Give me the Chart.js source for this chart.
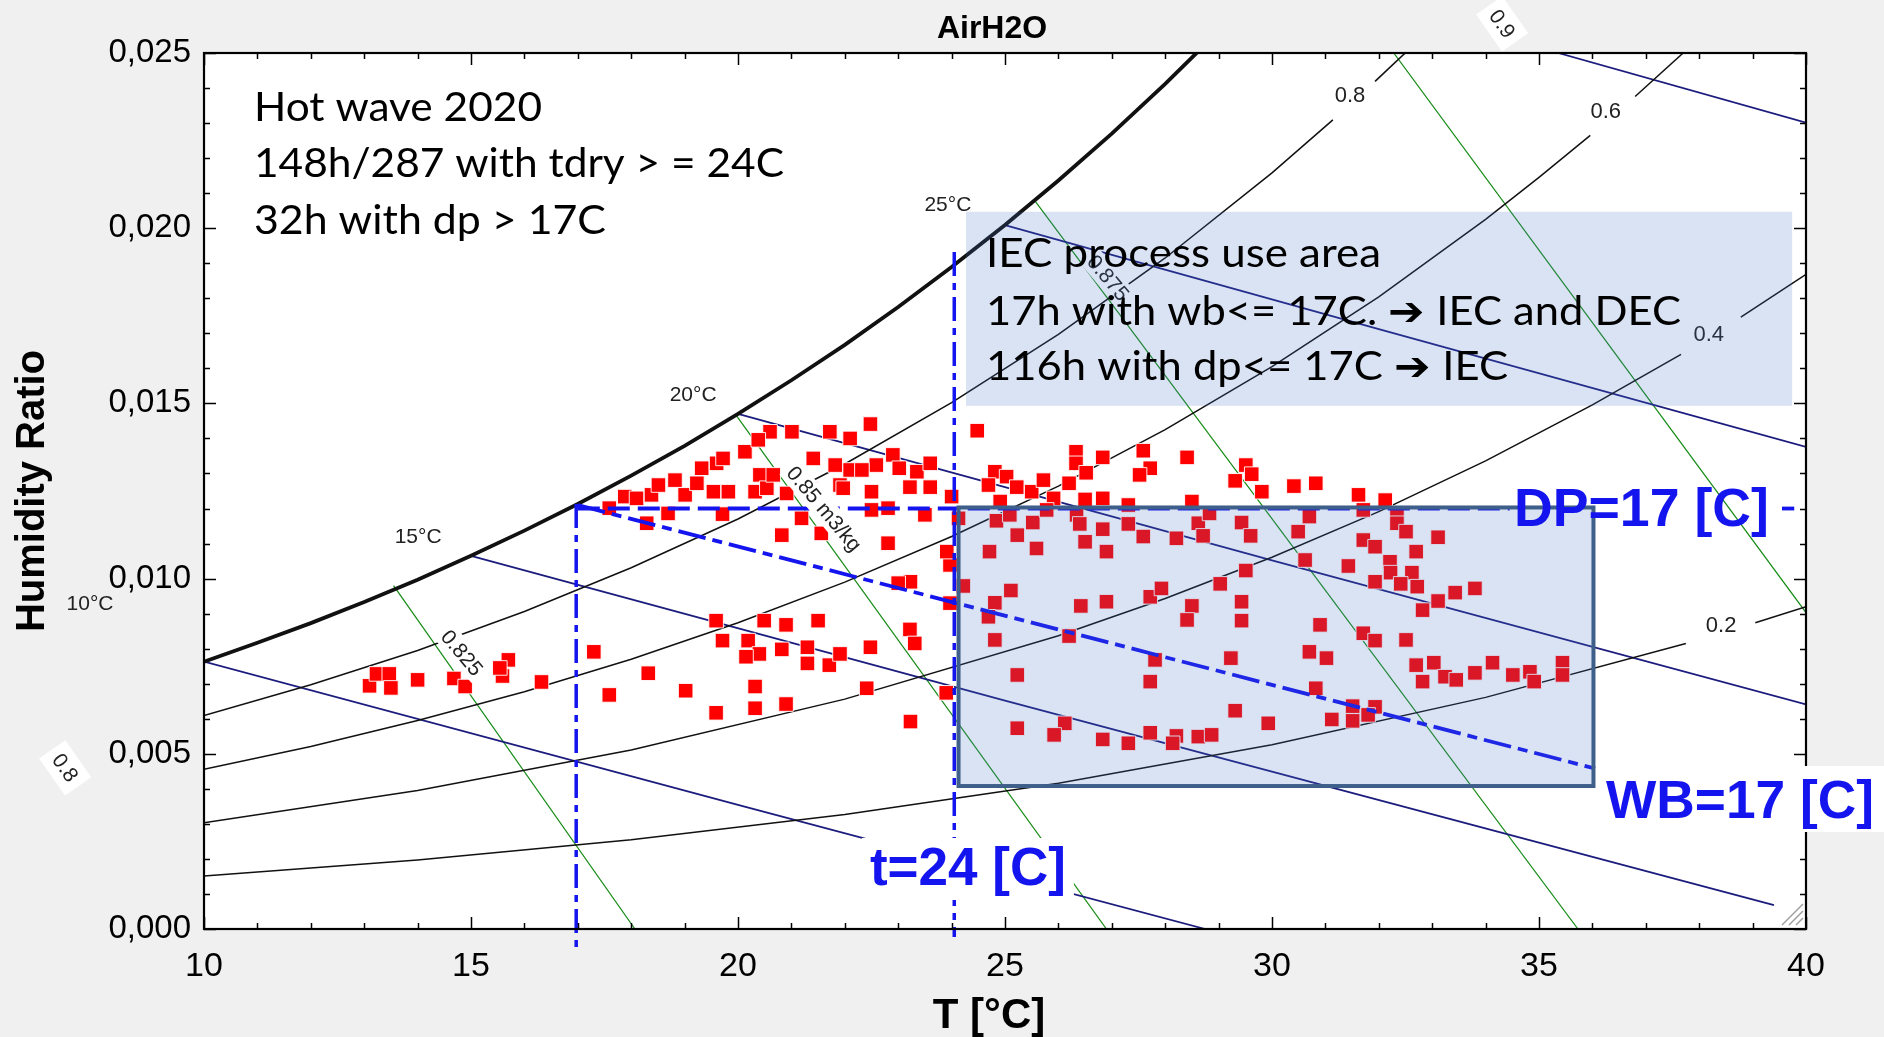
<!DOCTYPE html>
<html><head><meta charset="utf-8">
<script src="https://cdn.jsdelivr.net/npm/chart.js@4.4.1/dist/chart.umd.min.js"></script>
<style>html,body{margin:0;padding:0;background:#f0f0f0;overflow:hidden}#wrap{width:1884px;height:1037px}</style>
</head><body><div id="wrap"><canvas id="c" width="1884" height="1037"></canvas></div>
<script>
// ---------- hourly measurements (dry-bulb T [°C], humidity ratio [kg/kg]) ----------
const pointT = [13.10,13.23,13.47,13.50,14.00,14.68,14.89,15.70,15.59,15.54,16.32,17.30,17.59,18.32,19.02,19.59,19.71,19.59,20.19,20.40,20.15,20.49,20.90,20.82,20.32,20.32,20.90,21.50,21.30,21.30,21.71,21.91,
23.97,23.23,23.00,24.22,25.11,24.81,24.69,23.97,23.22,23.31,22.48,24.81,25.23,22.41,23.90,23.23,26.42,26.90,26.20,27.72,27.93,28.50,28.41,29.03,29.51,29.43,29.43,30.62,30.90,30.70,31.02,27.81,27.72,29.23,30.82,29.31,29.93,31.12,25.23,26.12,25.92,26.83,27.31,27.72,28.21,28.14,28.62,28.87,
17.59,17.88,18.10,18.38,18.51,18.82,19.01,19.23,19.32,19.60,19.72,19.54,19.82,20.13,20.32,20.41,20.60,20.38,21.01,21.72,22.10,21.41,21.82,22.10,21.91,20.54,20.66,20.91,18.69,19.71,18.29,21.19,20.82,21.56,21.36,22.59,
22.48,22.90,22.32,23.02,23.35,23.60,23.60,23.22,22.50,21.97,22.50,22.81,23.50,24.00,24.13,22.81,23.91,24.48,24.81,24.69,25.03,25.22,24.91,25.50,25.72,25.91,26.20,26.33,26.33,26.52,26.83,26.50,26.83,27.31,27.59,27.72,27.52,28.41,28.50,29.51,29.31,29.62,29.81,30.41,30.82,
24.84,25.09,25.52,25.23,24.71,25.59,25.78,26.34,26.40,26.50,26.83,26.90,27.31,27.59,28.21,28.62,28.71,28.83,29.43,29.60,30.49,30.70,
31.62,32.12,31.71,32.34,32.34,32.51,33.11,31.71,31.93,32.70,31.43,32.21,32.22,32.62,31.93,32.41,32.72,33.43,33.80,33.11,32.82,31.71,31.93,32.51,32.70,33.03,32.82,33.24,33.45,33.80,34.13,34.51,34.83,34.91,35.44,35.44,31.51,31.93,31.51,31.80];
const pointW = [0.00694,0.00728,0.00728,0.00688,0.00711,0.00715,0.00692,0.00768,0.00722,0.00745,0.00705,0.00791,0.00668,0.00730,0.00680,0.00880,0.00823,0.00617,0.00823,0.00785,0.00777,0.00880,0.00868,0.00798,0.00692,0.00630,0.00642,0.00880,0.00804,0.00758,0.00753,0.00785,
0.01039,0.00991,0.00987,0.00979,0.00966,0.00931,0.00891,0.00930,0.00855,0.00815,0.00804,0.00825,0.00725,0.00687,0.00674,0.00592,0.00922,0.00934,0.00836,0.00948,0.00972,0.00922,0.00882,0.00985,0.01023,0.00934,0.00880,0.01053,0.00868,0.00791,0.00773,0.00768,0.00706,0.00773,0.00687,0.00623,0.00587,0.00598,0.00573,0.00587,0.00554,0.00541,0.00530,0.00560,0.00551,0.00530,0.00549,0.00554,
0.01201,0.01234,0.01229,0.01239,0.01267,0.01281,0.01239,0.01272,0.01315,0.01329,0.01343,0.01248,0.01248,0.01362,0.01248,0.01296,0.01419,0.01396,0.01419,0.01419,0.01400,0.01343,0.01324,0.01310,0.01267,0.01258,0.01296,0.01243,0.01186,0.01184,0.01158,0.01172,0.01124,0.01129,0.01256,0.01324,
0.01441,0.01353,0.01310,0.01315,0.01305,0.01329,0.01261,0.01261,0.01248,0.01258,0.01196,0.01201,0.01182,0.01234,0.01172,0.01101,0.01077,0.01422,0.01305,0.01267,0.01291,0.01261,0.01220,0.01248,0.01281,0.01229,0.01272,0.01362,0.01329,0.01302,0.01346,0.01226,0.01229,0.01210,0.01365,0.01315,0.01296,0.01346,0.01220,0.01324,0.01279,0.01298,0.01248,0.01264,0.01272,
0.01165,0.01182,0.01160,0.01124,0.01077,0.01086,0.01196,0.01182,0.01156,0.01105,0.01141,0.01077,0.01156,0.01120,0.01115,0.01158,0.01122,0.01186,0.01160,0.01122,0.01134,0.01177,
0.01239,0.01224,0.01196,0.01186,0.01158,0.01134,0.01118,0.01110,0.01091,0.01077,0.01036,0.01048,0.01017,0.01017,0.00991,0.00985,0.00977,0.00960,0.00972,0.00936,0.00910,0.00844,0.00823,0.00825,0.00753,0.00760,0.00706,0.00720,0.00711,0.00731,0.00760,0.00725,0.00734,0.00706,0.00760,0.00725,0.00636,0.00634,0.00594,0.00611];

// ---------- saturation curve ----------
const satT = [10,11,12,13,14,15,16,17,18,19,20,21,22,23,24,25,26,27,28,28.6];
const satW = [0.00763,0.00817,0.00873,0.00933,0.00997,0.01065,0.01137,0.01213,0.01294,0.01379,0.01470,0.01566,0.01667,0.01775,0.01889,0.02009,0.02136,0.02270,0.02412,0.02502];

// ---------- relative humidity curves (two segments each, gap at label) ----------
const rh80T = [10,12,14,16,18,20,22,24,26,28,30,31.14];
const rh80W = [0.00609,0.00697,0.00795,0.00906,0.01031,0.01170,0.01327,0.01502,0.01697,0.01915,0.02158,0.02309];
const rh80bT = [31.93,32.5];  const rh80bW = [0.02419,0.02501];
const rh60T = [10,12,14,16,18,20,22,24,26,28,30,32,34,35,35.96];
const rh60W = [0.00456,0.00521,0.00595,0.00677,0.00770,0.00874,0.00990,0.01120,0.01264,0.01425,0.01605,0.01804,0.02025,0.02145,0.02265];
const rh60bT = [36.8,37.7];   const rh60bW = [0.02376,0.02500];
const rh40T = [10,14,18,22,26,28,30,32,34,36,37.66];
const rh40W = [0.00303,0.00395,0.00511,0.00656,0.00837,0.00943,0.01061,0.01191,0.01336,0.01496,0.01640];
const rh40bT = [38.78,40];    const rh40bW = [0.01746,0.01868];
const rh20T = [10,14,18,22,26,30,34,37.75];
const rh20W = [0.00151,0.00197,0.00255,0.00327,0.00416,0.00526,0.00661,0.00815];
const rh20bT = [39.05,40];    const rh20bW = [0.00874,0.00920];

// ---------- wet-bulb lines ----------
const wb10T = [10,20,28.75];  const wb10W = [0.00763,0.00354,0.0];
const wb15T = [15,25,39.4];   const wb15W = [0.01065,0.00652,0.00068];
const wb20T = [20,30,40];     const wb20W = [0.01470,0.01052,0.00641];
const wb25T = [25,32,40];     const wb25W = [0.02009,0.01712,0.01376];
const wb30T = [35.36,40];     const wb30W = [0.02500,0.02301];

// ---------- specific volume lines ----------
const v825T = [13.55,18.07];  const v825W = [0.0098,0.0];
const v850T = [19.97,26.9];   const v850W = [0.01465,0.0];
const v875T = [25.55,35.73];  const v875W = [0.0208,0.0];
const v900T = [32.28,40];     const v900W = [0.025,0.00903];

// ---------- limit lines ----------
const dpT = [17,34.45];       const dpW = [0.0120,0.0120];
const dpTailT = [39.55,39.78]; const dpTailW = [0.0120,0.0120];
const wbLimT = [17,36.05];    const wbLimW = [0.0121,0.00458];
const t24T = [24.05,24.05];   const t24W = [0.01932,-0.00023];
const t17T = [16.97,16.97];   const t17W = [0.01213,-0.0007];

// ---------- areas [Tmin, Tmax, Wmin, Wmax] ----------
const iecBox = [24.13,36.02,0.00408,0.01203];
const textBox = [24.27,39.74,0.01493,0.02047];

// ---------- labels ----------
const xTicks = [10,15,20,25,30,35,40];
const wbLabels = [['10°C',7.865,0.00928],['15°C',14.01,0.01119],['20°C',19.16,0.01524],['25°C',23.93,0.02066]];
const rhLabels = [['0.8',31.46,0.02377],['0.6',36.25,0.02332],['0.4',38.18,0.01695],['0.2',38.41,0.00865]];
const volLabels = [['0.825',14.83,0.00788],['0.85 m3/kg',21.61,0.01199],['0.875',26.93,0.01858]];
const volOuterLabels = [['0.9',34.31,0.02583],['0.8',7.40,0.00460]];
const infoLines = ['Hot wave 2020','148h/287 with tdry > = 24C','32h with dp > 17C'];
const iecLines = ['IEC process use area','17h with wb<= 17C. \u2794 IEC and DEC','116h with dp<= 17C \u2794 IEC'];

const FONT = '"Liberation Sans", Arial, sans-serif';
Chart.defaults.font.family = FONT;

const xy = (ts, ws) => ts.map((t, i) => ({ x: t, y: ws[i] }));
function curve(ts, ws, color, width, order, extra) {
  return Object.assign({ data: xy(ts, ws), showLine: true, pointRadius: 0, pointHoverRadius: 0,
    borderColor: color, backgroundColor: color, borderWidth: width, fill: false, tension: 0, order: order }, extra || {});
}
const BLACK = '#111111', NAVY = '#1c1c7e', GREEN = '#138a13', BLUE = '#1414ee';
const DASH = [28, 7, 10, 7];

const datasets = [
  { label: 'hours', data: xy(pointT, pointW), pointStyle: 'rect', pointRadius: 10.3, pointHoverRadius: 10.3,
    backgroundColor: '#ff0000', borderColor: 'rgba(255,255,255,0.9)', borderWidth: 1, showLine: false, order: 2 },
  curve(dpT, dpW, BLUE, 3.8, 1, { borderDash: [22, 8] }),
  curve(dpTailT, dpTailW, BLUE, 3.8, 1, { clip: false }),
  curve(wbLimT, wbLimW, BLUE, 3.8, 1, { borderDash: DASH }),
  curve(t24T, t24W, BLUE, 3.5, 1, { borderDash: [24, 7, 7, 7], clip: false }),
  curve(t17T, t17W, BLUE, 3.5, 1, { borderDash: [24, 7, 7, 7], clip: false }),
  curve(satT, satW, BLACK, 3.8, 3),
  curve(rh80T, rh80W, BLACK, 1.5, 4), curve(rh80bT, rh80bW, BLACK, 1.5, 4),
  curve(rh60T, rh60W, BLACK, 1.5, 4), curve(rh60bT, rh60bW, BLACK, 1.5, 4),
  curve(rh40T, rh40W, BLACK, 1.5, 4), curve(rh40bT, rh40bW, BLACK, 1.5, 4),
  curve(rh20T, rh20W, BLACK, 1.5, 4), curve(rh20bT, rh20bW, BLACK, 1.5, 4),
  curve(wb10T, wb10W, NAVY, 1.8, 5), curve(wb15T, wb15W, NAVY, 1.8, 5), curve(wb20T, wb20W, NAVY, 1.8, 5),
  curve(wb25T, wb25W, NAVY, 1.8, 5), curve(wb30T, wb30W, NAVY, 1.8, 5),
  curve(v825T, v825W, GREEN, 1.2, 6), curve(v850T, v850W, GREEN, 1.2, 6),
  curve(v875T, v875W, GREEN, 1.2, 6), curve(v900T, v900W, GREEN, 1.2, 6)
];

function fitText(ctx, txt, x, y, w, font, color) {
  ctx.save(); ctx.font = font; ctx.fillStyle = color; ctx.textAlign = 'left'; ctx.textBaseline = 'alphabetic';
  const m = ctx.measureText(txt).width;
  ctx.translate(x, y); ctx.scale(w / m, 1); ctx.fillText(txt, 0, 0); ctx.restore();
}
function rotLabel(ctx, txt, cx, cy, deg, font, padX, padY) {
  ctx.save(); ctx.translate(cx, cy); ctx.rotate(deg * Math.PI / 180); ctx.font = font;
  const w = ctx.measureText(txt).width;
  ctx.fillStyle = '#ffffff'; ctx.fillRect(-w / 2 - padX, -11 - padY, w + 2 * padX, 22 + 2 * padY);
  ctx.fillStyle = '#222'; ctx.textAlign = 'center'; ctx.textBaseline = 'middle'; ctx.fillText(txt, 0, 1);
  ctx.restore();
}

const psyPlugin = {
  id: 'psy',
  beforeDatasetsDraw(chart) {
    const { ctx, chartArea: a } = chart;
    ctx.save(); ctx.fillStyle = '#ffffff'; ctx.fillRect(a.left, a.top, a.right - a.left, a.bottom - a.top); ctx.restore();
  },
  afterDatasetsDraw(chart) {
    const { ctx, chartArea: a } = chart;
    const X = v => chart.scales.x.getPixelForValue(v), Y = v => chart.scales.y.getPixelForValue(v);
    ctx.save();
    // wet-bulb and RH labels
    ctx.fillStyle = '#222'; ctx.textAlign = 'center'; ctx.textBaseline = 'middle';
    ctx.font = '21px ' + FONT;
    wbLabels.forEach(l => ctx.fillText(l[0], X(l[1]), Y(l[2])));
    ctx.font = '22px ' + FONT;
    rhLabels.forEach(l => ctx.fillText(l[0], X(l[1]), Y(l[2])));
    // volume labels
    volLabels.forEach(l => rotLabel(ctx, l[0], X(l[1]), Y(l[2]), 50, '21px ' + FONT, 3, 1));
    volOuterLabels.forEach(l => rotLabel(ctx, l[0], X(l[1]), Y(l[2]), 55, '21px ' + FONT, 8, 5));
    // IEC area box
    const bx = X(iecBox[0]), bx2 = X(iecBox[1]), by = Y(iecBox[3]), by2 = Y(iecBox[2]);
    ctx.fillStyle = 'rgba(68,114,196,0.2)'; ctx.fillRect(bx, by, bx2 - bx, by2 - by);
    ctx.strokeStyle = '#3e5f8a'; ctx.lineWidth = 4; ctx.strokeRect(bx, by, bx2 - bx, by2 - by);
    const tx = X(textBox[0]), tx2 = X(textBox[1]), ty = Y(textBox[3]), ty2 = Y(textBox[2]);
    ctx.fillStyle = 'rgba(68,114,196,0.2)'; ctx.fillRect(tx, ty, tx2 - tx, ty2 - ty);
    // frame + inward ticks
    ctx.strokeStyle = '#000'; ctx.lineWidth = 1.5;
    ctx.beginPath();
    for (let t = 10; t <= 40; t++) {
      const px = Math.round(X(t)) + 0.5, L = (t % 5 === 0) ? 12 : 6;
      ctx.moveTo(px, a.bottom); ctx.lineTo(px, a.bottom - L); ctx.moveTo(px, a.top); ctx.lineTo(px, a.top + L);
    }
    for (let k = 0; k <= 25; k++) {
      const py = Math.round(Y(k / 1000)) + 0.5, L = (k % 5 === 0) ? 12 : 6;
      ctx.moveTo(a.left, py); ctx.lineTo(a.left + L, py); ctx.moveTo(a.right, py); ctx.lineTo(a.right - L, py);
    }
    ctx.stroke();
    ctx.lineWidth = 2.2; ctx.strokeRect(a.left, a.top, a.right - a.left, a.bottom - a.top);
    // resize grip
    ctx.strokeStyle = '#a0a0a0'; ctx.lineWidth = 1.5; ctx.beginPath();
    [[-21, 0], [-14, 0], [-7, 0]].forEach(d => { ctx.moveTo(a.right - 3 + d[0], a.bottom - 4); ctx.lineTo(a.right - 3, a.bottom - 4 + d[0]); });
    ctx.stroke();
    // info texts
    const tf = '40px Lato, "Open Sans", sans-serif';
    fitText(ctx, infoLines[0], X(10.936), Y(0.023059), 288, tf, '#000');
    fitText(ctx, infoLines[1], X(10.936), Y(0.021461), 530, tf, '#000');
    fitText(ctx, infoLines[2], X(10.936), Y(0.019834), 352, tf, '#000');
    fitText(ctx, iecLines[0], X(24.644), Y(0.018893), 395, tf, '#000');
    fitText(ctx, iecLines[1], X(24.644), Y(0.017237), 695, tf, '#000');
    fitText(ctx, iecLines[2], X(24.644), Y(0.015668), 522, tf, '#000');
    // limit labels
    const bf = 'bold 53px ' + FONT;
    fitText(ctx, 'DP=17 [C]', X(34.53), Y(0.011501), 255, bf, BLUE);
    ctx.fillStyle = '#ffffff';
    ctx.fillRect(X(22.32), Y(0.002597), X(26.29) - X(22.32), Y(0.000828) - Y(0.002597));
    fitText(ctx, 't=24 [C]', X(22.47), Y(0.001256), 196, bf, BLUE);
    ctx.fillStyle = '#ffffff';
    ctx.fillRect(X(36.14), Y(0.004652), 1884 - X(36.14), Y(0.002768) - Y(0.004652));
    fitText(ctx, 'WB=17 [C]', X(36.255), Y(0.003168), 268, bf, BLUE);
    // titles
    ctx.fillStyle = '#000'; ctx.textAlign = 'center'; ctx.textBaseline = 'alphabetic';
    ctx.font = 'bold 32px ' + FONT; ctx.fillText('AirH2O', 992, 38);
    ctx.font = 'bold 42px ' + FONT; ctx.fillText('T [°C]', 989, 1028);
    ctx.save(); ctx.translate(44, 491); ctx.rotate(-Math.PI / 2);
    ctx.font = 'bold 40px ' + FONT; ctx.fillText('Humidity Ratio', 0, 0); ctx.restore();
    ctx.restore();
  }
};

new Chart(document.getElementById('c'), {
  type: 'scatter',
  data: { datasets },
  options: {
    responsive: false, animation: false, devicePixelRatio: 1,
    layout: { padding: { top: 53, right: 78, bottom: 0, left: 0 } },
    plugins: { legend: { display: false }, tooltip: { enabled: false }, title: { display: false } },
    scales: {
      x: { type: 'linear', min: 10, max: 40, position: 'bottom',
        afterBuildTicks: s => { s.ticks = xTicks.map(v => ({ value: v })); },
        ticks: { padding: 17, color: '#000', font: { size: 34 }, maxRotation: 0, autoSkip: false },
        grid: { display: false, drawTicks: false }, border: { display: false },
        afterFit: s => { s.height = 108; } },
      y: { type: 'linear', min: 0, max: 0.025,
        ticks: { stepSize: 0.005, padding: 13, color: '#000', font: { size: 33 },
          callback: v => v.toFixed(3).replace('.', ',') },
        grid: { display: false, drawTicks: false }, border: { display: false },
        afterFit: s => { s.width = 204; } }
    }
  },
  plugins: [psyPlugin]
});
</script></body></html>
